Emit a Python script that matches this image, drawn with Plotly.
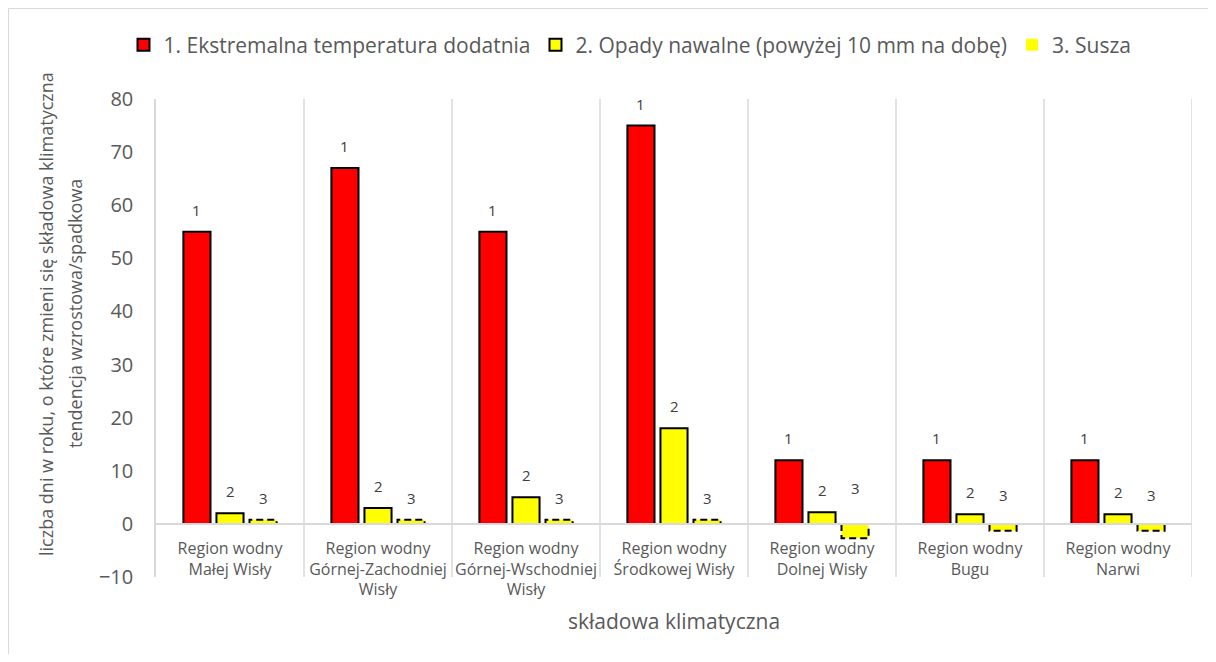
import plotly.graph_objects as go

categories = [
    "Region wodny<br>Małej Wisły",
    "Region wodny<br>Górnej-Zachodniej<br>Wisły",
    "Region wodny<br>Górnej-Wschodniej<br>Wisły",
    "Region wodny<br>Środkowej Wisły",
    "Region wodny<br>Dolnej Wisły",
    "Region wodny<br>Bugu",
    "Region wodny<br>Narwi",
]
series_names = [
    "1. Ekstremalna temperatura dodatnia",
    "2. Opady nawalne (powyżej 10 mm na dobę)",
    "3. Susza",
]
temp_values = [55, 67, 55, 75, 12, 12, 12]
opady_values = [2, 3, 5, 18, 2.2, 1.8, 1.8]
susza_values = [0.8, 0.8, 0.8, 0.8, -2.7, -1.3, -1.3]
label_texts = ["1", "2", "3"]
y_ticks = [-10, 0, 10, 20, 30, 40, 50, 60, 70, 80]
y_title_lines = ["liczba dni w roku, o które zmieni się składowa klimatyczna",
                 "tendencja wzrostowa/spadkowa"]
x_title = "składowa klimatyczna"

FONT = "Open Sans"
GREY = "#595959"
GRID = "#d9d9d9"

# page has an 8px body margin: figure is placed at (8, 8)
W, H = 1200, 646
ML, MR, MT, MB = 148, 16, 91, 77
PW = W - ML - MR  # 1036
PH = H - MT - MB  # 478


def px_x(page_x):
    return (page_x - 8 - ML) / PW


def px_y(page_y):
    return (MT + PH - (page_y - 8)) / PH


xs = list(range(len(categories)))
bargap = 0.33
bargroupgap = 0.18
slot = (1 - bargap) / 3
bw = slot * (1 - bargroupgap)
offsets = [-slot, 0, slot]

fig = go.Figure()
fig.add_trace(go.Bar(x=xs, y=temp_values, name=series_names[0],
                     marker=dict(color="#FF0000", line=dict(color="black", width=2))))
fig.add_trace(go.Bar(x=xs, y=opady_values, name=series_names[1],
                     marker=dict(color="#FFFF00", line=dict(color="black", width=2))))
fig.add_trace(go.Bar(x=xs, y=susza_values, name=series_names[2],
                     marker=dict(color="#FFFF00", line=dict(color="#FFFF00", width=0))))

# dashed outline for the drought bars, built from the data
ox, oy = [], []
for i, v in zip(xs, susza_values):
    l = i + offsets[2] - bw / 2
    r = i + offsets[2] + bw / 2
    ox += [l, l, r, r, l, None]
    oy += [0, v, v, 0, 0, None]
fig.add_trace(go.Scatter(x=ox, y=oy, mode="lines", showlegend=False, hoverinfo="skip",
                         line=dict(color="black", width=2, dash="7px,4px")))

annotations = []
for k, vals in enumerate([temp_values, opady_values, susza_values]):
    for i, v in zip(xs, vals):
        annotations.append(dict(x=i + offsets[k], y=abs(v), xref="x", yref="y",
                                text=label_texts[k], showarrow=False, yshift=22,
                                font=dict(family=FONT, size=15, color="#404040")))

annotations.append(dict(x=0.5, y=px_y(621), xref="paper", yref="paper",
                        text=x_title, showarrow=False, yanchor="middle",
                        font=dict(family=FONT, size=21, color=GREY)))
for line_txt, cx in zip(y_title_lines, [46, 75]):
    annotations.append(dict(x=px_x(cx), y=px_y(314), xref="paper", yref="paper",
                            textangle=-90, text=line_txt, showarrow=False,
                            xanchor="center", yanchor="middle",
                            font=dict(family=FONT, size=18, color=GREY)))

shapes = []
for i in range(1, len(categories) + 1):
    shapes.append(dict(type="line", xref="x", yref="paper", x0=i - 0.5, x1=i - 0.5,
                       y0=0, y1=1, line=dict(color=GRID, width=1.5), layer="below"))
# outer chart border (top and left edges visible in the frame)
shapes.append(dict(type="line", xref="paper", yref="paper",
                   x0=px_x(8.5), x1=px_x(1216), y0=px_y(8.5), y1=px_y(8.5),
                   line=dict(color=GRID, width=1), layer="below"))
shapes.append(dict(type="line", xref="paper", yref="paper",
                   x0=px_x(8.5), x1=px_x(8.5), y0=px_y(8.5), y1=px_y(662),
                   line=dict(color=GRID, width=1), layer="below"))

fig.update_layout(
    width=W, height=H,
    margin=dict(l=ML, r=MR, t=MT, b=MB),
    paper_bgcolor="white", plot_bgcolor="white",
    barmode="group", bargap=bargap, bargroupgap=bargroupgap,
    font=dict(family=FONT, color=GREY),
    showlegend=True,
    legend=dict(orientation="h", x=px_x(630), xanchor="center", y=px_y(45), yanchor="middle",
                font=dict(family=FONT, size=21, color=GREY), traceorder="normal"),
    annotations=annotations,
    shapes=shapes,
    xaxis=dict(range=[-0.5, 6.5], tickmode="array", tickvals=xs, ticktext=categories,
               anchor="free", position=10 / 90, showline=True, linecolor=GRID, linewidth=1.5,
               showgrid=False, zeroline=False, ticks="outside", ticklen=0,
               ticklabelstandoff=10,
               tickfont=dict(family=FONT, size=16, color=GREY), fixedrange=True),
    yaxis=dict(range=[-10, 80], tickmode="array", tickvals=y_ticks, showgrid=False,
               zeroline=False, showline=True, linecolor=GRID, linewidth=1.5,
               ticks="outside", ticklen=0, ticklabelstandoff=17,
               tickfont=dict(family=FONT, size=20, color=GREY)),
)

fig.write_html("out.html")
